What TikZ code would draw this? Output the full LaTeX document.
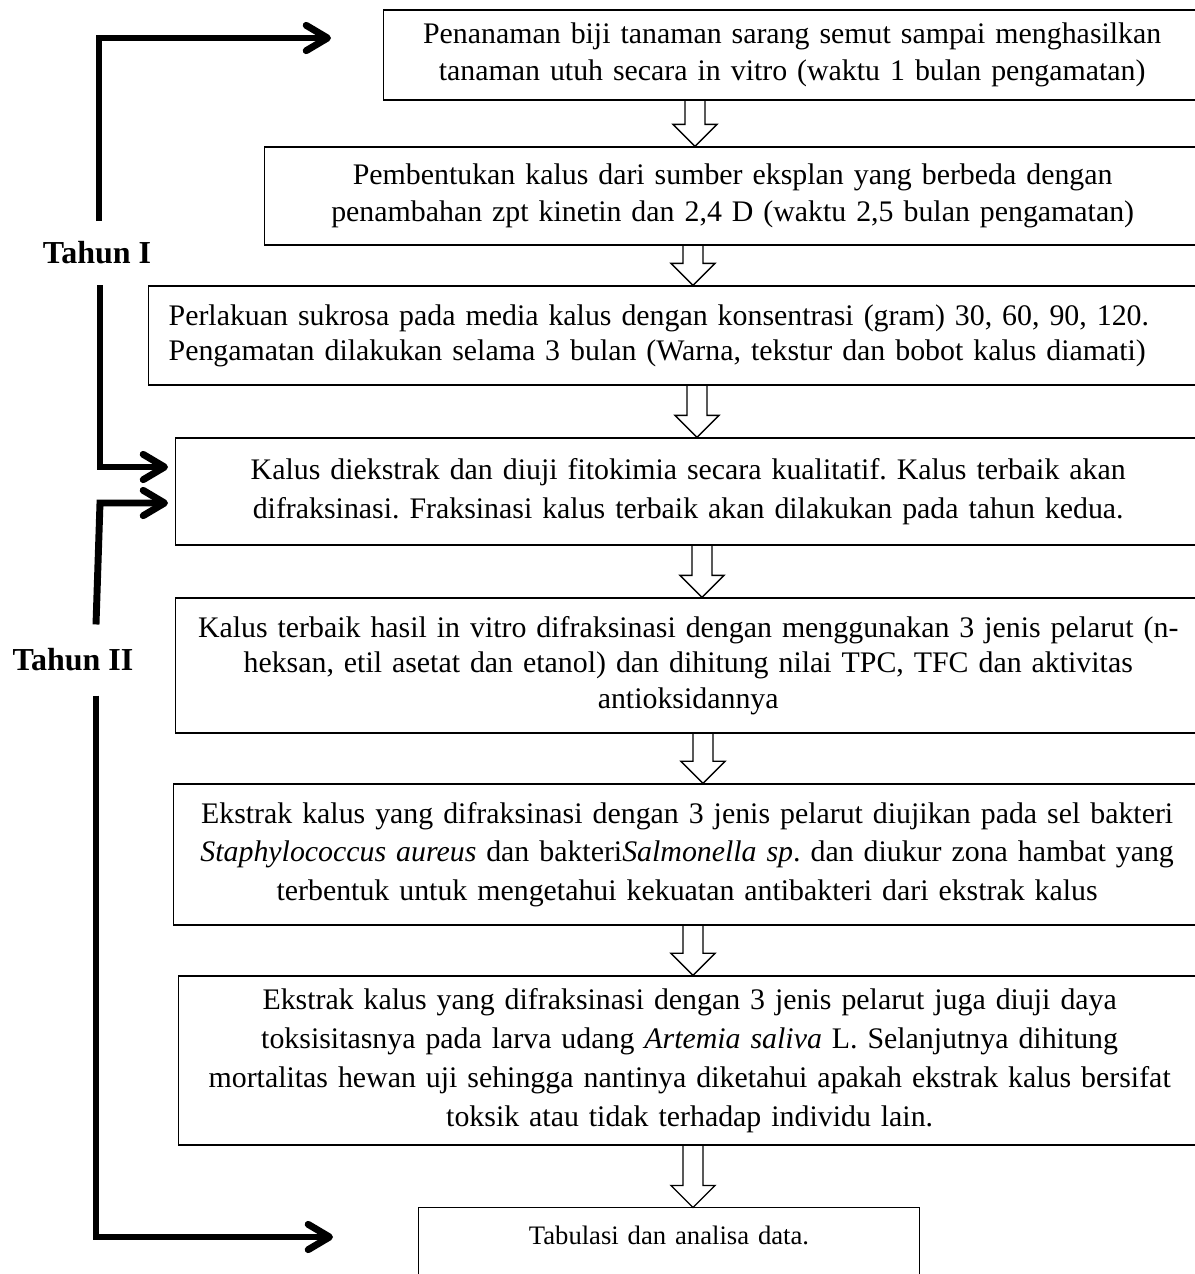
\documentclass[tikz,border=0pt]{standalone}
\usepackage{fontspec}
\setmainfont{Liberation Serif}
\usetikzlibrary{arrows.meta, calc}
\frenchspacing

\newcommand{\blockarrow}[3]{%
  \draw[arrowline] let \p3=(#1,0), \p1=(#2.south), \p2=(#3.north) in
    (\x3-3.75pt,\y1) -- (\x3-3.75pt,\y2+8.25pt) -- (\x3-8.25pt,\y2+8.25pt)
    -- (\x3,\y2) -- (\x3+8.25pt,\y2+8.25pt) -- (\x3+3.75pt,\y2+8.25pt)
    -- (\x3+3.75pt,\y1);%
}

\begin{document}
\begin{tikzpicture}[
  x=0.375pt, y=-0.375pt,
  every node/.style={font=\fontsize{11.2}{13.8}\selectfont},
  box/.style={draw, line width=0.5pt, anchor=west, align=center, inner xsep=0pt},
  widebox/.style={box, font=\fontsize{11.2}{14.4}\selectfont},
  yearlabel/.style={font=\bfseries\fontsize{12}{14}\selectfont, inner sep=0pt},
  yearline/.style={line width=2.6pt, -{Straight Barb[length=8pt,width=9.5pt,round]}},
  arrowline/.style={line width=0.5pt}
]
\useasboundingbox (0,0) rectangle (1195,1274);
\clip (0,0) rectangle (1195,1274);

\node[box, text width=306.4pt, minimum height=33.75pt] (b1) at (383,55)
  {Penanaman biji tanaman sarang semut sampai menghasilkan\\
   tanaman utuh secara in vitro (waktu 1 bulan pengamatan)};
\node[box, text width=351pt, minimum height=36.75pt] (b2) at (264,196)
  {Pembentukan kalus dari sumber eksplan yang berbeda dengan\\
   penambahan zpt kinetin dan 2,4 D (waktu 2,5 bulan pengamatan)};
\node[box, text width=379.5pt, inner xsep=7.5pt, align=left, minimum height=37.1pt,
  font=\fontsize{11.2}{13.2}\selectfont] (b3) at (148,335.5)
  {Perlakuan sukrosa pada media kalus dengan konsentrasi (gram) 30, 60, 90, 120.\\
   Pengamatan dilakukan selama 3 bulan (Warna, tekstur dan bobot kalus diamati)};
\node[widebox, text width=384.4pt, minimum height=40.1pt] (b4) at (175,491.5)
  {Kalus diekstrak dan diuji fitokimia secara kualitatif. Kalus terbaik akan\\
   difraksinasi. Fraksinasi kalus terbaik akan dilakukan pada tahun kedua.};
\node[box, text width=384.4pt, minimum height=50.6pt,
  font=\fontsize{11.2}{13.2}\selectfont] (b5) at (175,665.5)
  {Kalus terbaik hasil in vitro difraksinasi dengan menggunakan 3 jenis pelarut (n-\\
   heksan, etil asetat dan etanol) dan dihitung nilai TPC, TFC dan aktivitas\\
   antioksidannya};
\node[widebox, text width=385.1pt, minimum height=52.9pt] (b6) at (173,854.5)
  {Ekstrak kalus yang difraksinasi dengan 3 jenis pelarut diujikan pada sel bakteri\\
   \textit{Staphylococcus aureus} dan bakteri\textit{Salmonella sp}. dan diukur zona hambat yang\\
   terbentuk untuk mengetahui kekuatan antibakteri dari ekstrak kalus};
\node[widebox, text width=383.25pt, minimum height=63.4pt,
  font=\fontsize{11.2}{14.6}\selectfont] (b7) at (178,1060.5)
  {Ekstrak kalus yang difraksinasi dengan 3 jenis pelarut juga diuji daya\\
   toksisitasnya pada larva udang \textit{Artemia saliva} L. Selanjutnya dihitung\\
   mortalitas hewan uji sehingga nantinya diketahui apakah ekstrak kalus bersifat\\
   toksik atau tidak terhadap individu lain.};
\node[inner sep=0pt, text width=187.5pt, align=center, minimum height=20.25pt,
  font=\fontsize{10}{12}\selectfont] (b8) at (669,1235)
  {Tabulasi dan analisa data.\hspace*{16pt}};
\coordinate (bot) at (0,1274);
\draw[line width=0.5pt] (b8.north west |- bot) -- (b8.north west) -- (b8.north east) -- (b8.north east |- bot);

\node[yearlabel, minimum height=23.6pt] (tahun1) at (97,253) {Tahun I};
\node[yearlabel, minimum height=26.25pt] (tahun2) at (73,660) {Tahun II};

\coordinate (k1) at (99,38);
\coordinate (k2) at (100,467);
\coordinate (k3) at (100,503);
\coordinate (k4) at (96,1237);
\coordinate (in1) at (331,38);
\coordinate (in4a) at (168,467);
\coordinate (in4b) at (168,503);
\coordinate (in8) at (333,1237);

\draw[yearline] (tahun1.north -| k1) -- (k1) -- (in1);
\draw[yearline] (tahun1.south -| k2) -- (k2) -- (in4a);
\draw[yearline] (tahun2.north -| k4) -- (k3) -- (in4b);
\draw[yearline] (tahun2.south -| k4) -- (k4) -- (in8);

\blockarrow{695}{b1}{b2}
\blockarrow{693}{b2}{b3}
\blockarrow{697}{b3}{b4}
\blockarrow{702}{b4}{b5}
\blockarrow{703}{b5}{b6}
\blockarrow{693}{b6}{b7}
\blockarrow{693}{b7}{b8}

\end{tikzpicture}
\end{document}
